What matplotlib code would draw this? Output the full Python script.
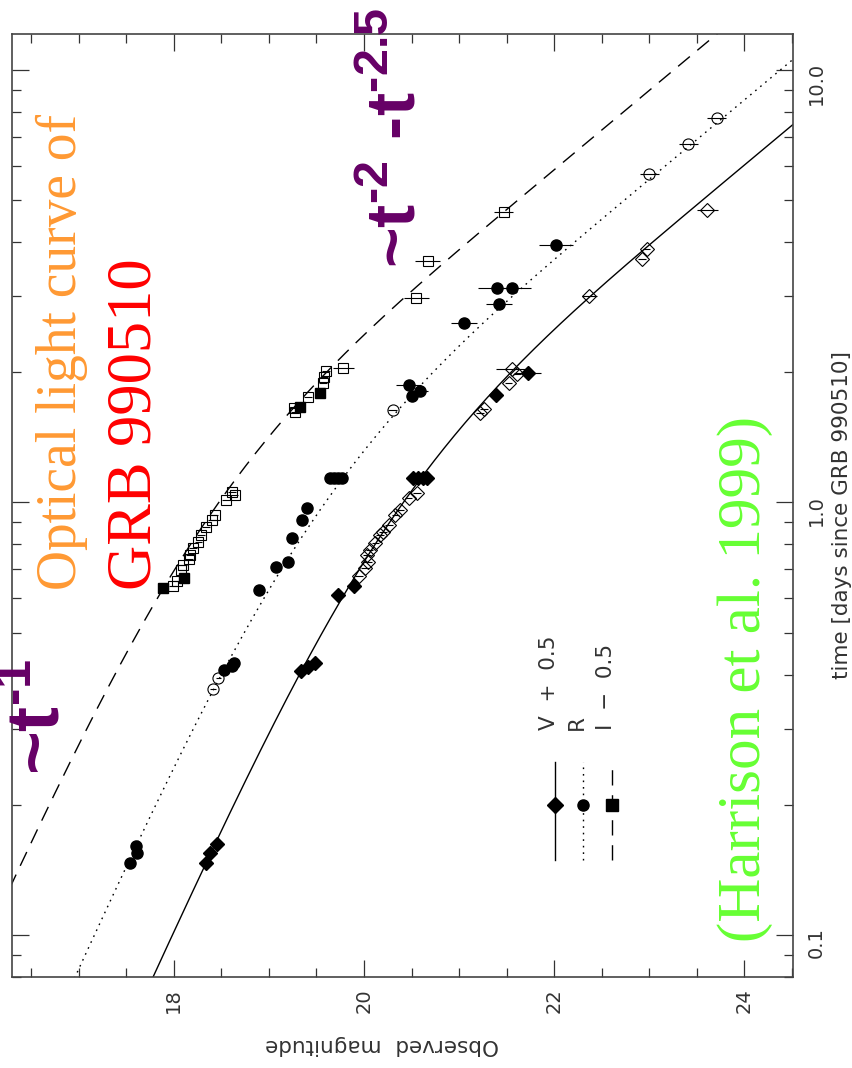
import numpy as np
import matplotlib
matplotlib.use('Agg')
import matplotlib.pyplot as plt
from matplotlib.ticker import MultipleLocator, LogLocator, NullFormatter

plt.rcParams['mathtext.fontset'] = 'custom'
plt.rcParams['mathtext.rm'] = 'Liberation Sans:bold'
plt.rcParams['mathtext.bf'] = 'Liberation Sans:bold'

# V + 0.5 (diamonds)
t_V_fill = [0.147, 0.1545, 0.162, 0.408, 0.417, 0.425, 0.611, 0.642, 1.141, 1.141, 1.141, 1.141, 1.773, 1.995]
m_V_fill = [18.34, 18.38, 18.45, 19.34, 19.41, 19.48, 19.73, 19.90, 20.52, 20.57, 20.62, 20.66, 21.39, 21.72]
e_V_fill = [0, 0, 0, 0, 0, 0, 0, 0, 0.05, 0.05, 0.05, 0.05, 0, 0.14]
t_V_open = [0.677, 0.705, 0.730, 0.756, 0.777, 0.805, 0.841, 0.856, 0.887, 0.936, 0.961, 1.023, 1.050,
            1.613, 1.643, 1.886, 2.035, 1.982, 3.003, 3.656, 3.855, 4.747]
m_V_open = [19.95, 20.01, 20.04, 20.03, 20.06, 20.12, 20.17, 20.20, 20.26, 20.33, 20.38, 20.47, 20.56,
            21.22, 21.26, 21.52, 21.56, 21.61, 22.37, 22.92, 22.97, 23.61]
e_V_open = [0.04] * 13 + [0.04, 0.04, 0.04, 0.17, 0.04, 0.08, 0.04, 0.04, 0.11]

# R (circles)
t_R_fill = [0.147, 0.1545, 0.161, 0.410, 0.418, 0.425, 0.628, 0.711, 0.727, 0.826, 0.911, 0.970,
            1.139, 1.139, 1.139, 1.139, 1.869, 1.763, 1.813, 2.605, 3.138, 3.138, 2.872, 3.938]
m_R_fill = [17.54, 17.61, 17.60, 18.53, 18.61, 18.63, 18.90, 19.07, 19.20, 19.24, 19.35, 19.40,
            19.64, 19.68, 19.73, 19.77, 20.47, 20.50, 20.59, 21.05, 21.40, 21.56, 21.42, 22.02]
e_R_fill = [0] * 12 + [0.04] * 4 + [0.13, 0.05, 0.08, 0.14, 0.20, 0.20, 0.14, 0.18]
t_R_open = [0.3705, 0.392, 1.636, 5.74, 6.734, 7.734]
m_R_open = [18.41, 18.47, 20.30, 23.00, 23.41, 23.71]
e_R_open = [0.03, 0.03, 0.05, 0.10, 0.10, 0.10]

# I - 0.5 (squares)
t_I_fill = [0.633, 0.668, 1.665, 1.788]
m_I_fill = [17.89, 18.11, 19.33, 19.54]
t_I_open = [0.640, 0.660, 0.698, 0.717, 0.740, 0.756, 0.784, 0.812, 0.841, 0.879, 0.911, 0.936,
            1.013, 1.041, 1.059, 1.622, 1.651, 1.756, 1.886, 1.954, 2.017, 2.043, 2.975, 3.623, 4.704]
m_I_open = [17.99, 18.03, 18.08, 18.10, 18.16, 18.17, 18.20, 18.26, 18.29, 18.34, 18.40, 18.43,
            18.55, 18.64, 18.61, 19.27, 19.26, 19.41, 19.57, 19.58, 19.60, 19.78, 20.55, 20.67, 21.47]
e_I_open = [0.04] * 21 + [0.11, 0.13, 0.13, 0.10]

# broken power law fit (Harrison et al. 1999)
T_BREAK = 1.2
A1 = 0.82
A2 = 2.18
m0_V = 20.18
m0_R = 19.36
m0_I = 18.24


def model(t, m0):
    x = t / T_BREAK
    J = x ** (A2 - A1)
    f = x ** (-A1) * (1 - np.exp(-J)) / J
    return m0 - 2.5 * np.log10(f)


fig = plt.figure(figsize=(8.52, 10.68), dpi=100)
ax = fig.add_axes([12 / 852, 91 / 1068, 781 / 852, 943 / 1068])

tt = np.logspace(np.log10(0.07), np.log10(14), 400)
ax.plot(model(tt, m0_V), tt, '-', color='black', lw=1.0)
ax.plot(model(tt, m0_R), tt, color='black', lw=1.0, linestyle=(0, (1.2, 3.5)))
ax.plot(model(tt, m0_I), tt, color='black', lw=1.0, linestyle=(0, (11, 7)))

kw = dict(ecolor='black', elinewidth=0.8, capsize=0, linestyle='none', color='black')
ax.errorbar(m_V_fill, t_V_fill, xerr=e_V_fill, fmt='D', ms=7, mfc='black', mec='black', **kw)
ax.errorbar(m_V_open, t_V_open, xerr=e_V_open, fmt='D', ms=7, mfc='none', mec='black', mew=0.8, **kw)
ax.errorbar(m_R_fill, t_R_fill, xerr=e_R_fill, fmt='o', ms=8, mfc='black', mec='black', **kw)
ax.errorbar(m_R_open, t_R_open, xerr=e_R_open, fmt='o', ms=8, mfc='none', mec='black', mew=0.8, **kw)
ax.errorbar(m_I_fill, t_I_fill, fmt='s', ms=7.5, mfc='black', mec='black', **kw)
ax.errorbar(m_I_open, t_I_open, xerr=e_I_open, fmt='s', ms=7.5, mfc='none', mec='black', mew=0.8, **kw)

ax.set_xlim(16.3, 24.51)
ax.set_yscale('log')
ax.set_ylim(0.080, 12.1)

ax.xaxis.set_major_locator(MultipleLocator(2))
ax.xaxis.set_minor_locator(MultipleLocator(0.5))
ax.set_yticks([0.1, 1.0, 10.0], labels=['0.1', '1.0', '10.0'])
ax.yaxis.set_minor_locator(LogLocator(base=10, subs=np.arange(2, 10)))
ax.yaxis.set_minor_formatter(NullFormatter())

ax.tick_params(which='both', direction='in', top=True, bottom=True, left=True, right=True,
               labelleft=False, labelright=True, colors='#333333', width=0.9,
               labelsize=14, labelrotation=90)
ax.tick_params(which='major', length=12)
ax.tick_params(which='minor', length=6.5)
ax.tick_params(axis='x', pad=8)
ax.tick_params(axis='y', pad=10)
for s in ax.spines.values():
    s.set_color('#444444')
    s.set_linewidth(1.2)

ax.text(0.474, -0.062, 'Observed  magnitude', transform=ax.transAxes, rotation=180,
        ha='center', va='top', fontsize=15.5, color='#333333')
ax.text(1.063, 0.49, 'time [days since GRB 990510]', transform=ax.transAxes, rotation=90,
        ha='center', va='center', fontsize=15.5, color='#333333')

# legend, drawn by hand in the rotated layout
leg_x = [0.695, 0.731, 0.768]
leg_style = ['-', (0, (1.2, 3.5)), (0, (11, 7))]
leg_mark = ['D', 'o', 's']
leg_text = ['V  +  0.5', 'R', 'I  \u2212  0.5']
for x, ls, mk, lab in zip(leg_x, leg_style, leg_mark, leg_text):
    ax.plot([x, x], [0.124, 0.228], transform=ax.transAxes, color='black', lw=1.0, linestyle=ls)
    ax.plot([x], [0.182], transform=ax.transAxes, marker=mk, ms=8, color='black')
    ax.text(x - 0.008, 0.262, lab, transform=ax.transAxes, rotation=90, ha='center',
            va='bottom', fontsize=15.5, color='#333333')

serif = ['Liberation Serif', 'DejaVu Serif']
ax.text(0.064, 0.410, 'Optical light curve of', transform=ax.transAxes, rotation=90,
        ha='center', va='bottom', fontsize=40, color='#FF9933', family=serif)
ax.text(0.158, 0.410, 'GRB 990510', transform=ax.transAxes, rotation=90,
        ha='center', va='bottom', fontsize=45, color='#FF0000', family=serif)
ax.text(0.9385, 0.037, '(Harrison et al. 1999)', transform=ax.transAxes, rotation=90,
        ha='center', va='bottom', fontsize=44, color='#66FF33', family=serif)
sans = ['Liberation Sans', 'DejaVu Sans']
ax.text(0.036, 0.214, r'~t$^{\text{-1}}$', transform=ax.transAxes, rotation=90,
        ha='center', va='bottom', fontsize=54, color='#660066', weight='bold', family=sans)
ax.text(0.494, 0.752, r'~t$^{\text{-2}}$ -t$^{\text{-2.5}}$', transform=ax.transAxes,
        rotation=90, ha='center', va='bottom', fontsize=50, color='#660066', weight='bold',
        family=sans)

fig.savefig('out.png', dpi=100)
